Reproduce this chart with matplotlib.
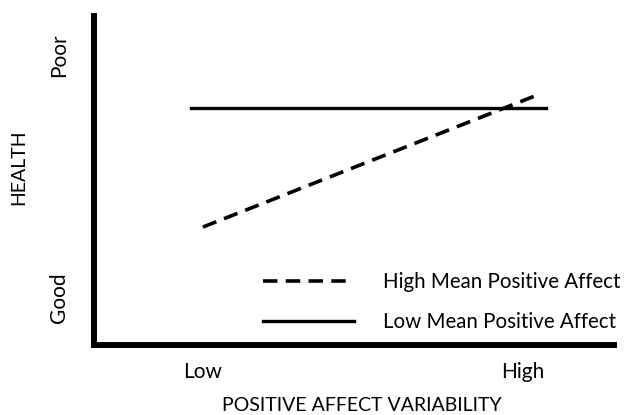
import matplotlib
matplotlib.use("Agg")
import matplotlib.pyplot as plt

# conceptual interaction plot: Low = 0, High = 1 on x; Good = 0, Poor = 1 on y
x_ticks = [0, 1]
x_tick_labels = ["Low", "High"]
y_ticks = [0, 1]
y_tick_labels = ["Good", "Poor"]

high_mean_x = [0.0, 1.054]
high_mean_y = [0.292, 0.840]
low_mean_x = [-0.0375, 1.072]
low_mean_y = [0.782, 0.782]

plt.rcParams["font.family"] = ["Lato", "DejaVu Sans"]

fig = plt.figure(figsize=(6.3, 4.15), dpi=100)
ax = fig.add_axes([94 / 630, 1 - 345 / 415, 520 / 630, 329 / 415])

ax.plot(high_mean_x, high_mean_y, color="black", lw=2.6, dashes=(4, 2.3),
        dash_capstyle="butt", label="High Mean Positive Affect")
ax.plot(low_mean_x, low_mean_y, color="black", lw=2.4,
        label="Low Mean Positive Affect")

ax.set_xlim(-0.34, 1.284)
ax.set_ylim(-0.193, 1.160)

ax.set_xticks(x_ticks)
ax.set_xticklabels(x_tick_labels, fontsize=15)
ax.set_yticks(y_ticks)
ax.set_yticklabels(y_tick_labels, fontsize=15, rotation=90, va="center")
ax.tick_params(axis="both", length=0)
ax.tick_params(axis="x", pad=12)
ax.tick_params(axis="y", pad=18)

ax.set_xlabel("POSITIVE AFFECT VARIABILITY", fontsize=14)
ax.xaxis.set_label_coords(0.515, -0.159)
ax.set_ylabel("HEALTH", fontsize=14)
ax.yaxis.set_label_coords(-0.128, 0.54)

for side in ["top", "right"]:
    ax.spines[side].set_visible(False)
for side in ["left", "bottom"]:
    ax.spines[side].set_linewidth(4.3)
    ax.spines[side].set_capstyle("projecting")

ax.legend(loc="upper left", bbox_to_anchor=(263 / 630, 1 - 272 / 415),
          bbox_transform=fig.transFigure, frameon=False, borderpad=0,
          borderaxespad=0, fontsize=14.8, handlelength=4.45,
          handletextpad=1.37, labelspacing=0.96)

fig.savefig("out.png", dpi=100)
